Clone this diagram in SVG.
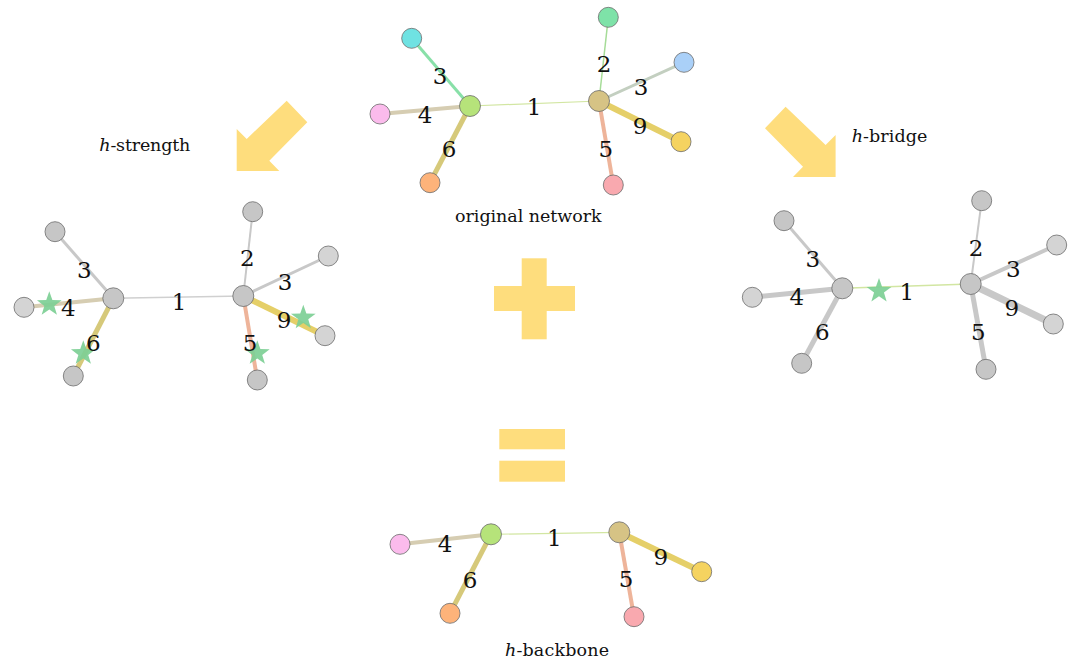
<svg xmlns="http://www.w3.org/2000/svg" xmlns:xlink="http://www.w3.org/1999/xlink" width="1077" height="663" viewBox="0 0 1077 663">
<style>
.n{stroke:#6b6b6b;stroke-width:0.8}
.g{fill:#c6c6c6}
.gl{fill:#d4d4d4}
.e{fill:none;stroke-linecap:butt}
.lbl{font-family:"DejaVu Serif","Liberation Serif",serif;font-size:23px;fill:#111;text-anchor:middle}
.cap{font-family:"DejaVu Serif","Liberation Serif",serif;font-size:17.5px;fill:#111}
.sym{fill:#fedd7d}
.star{fill:#7dcf95;opacity:0.92}
</style>
<defs>
<path id="star" d="M0,-13 L3.06,-4.21 L12.36,-4.02 L4.95,1.61 L7.64,10.52 L0,5.2 L-7.64,10.52 L-4.95,1.61 L-12.36,-4.02 L-3.06,-4.21 Z"/>
</defs>
<rect width="1077" height="663" fill="#ffffff"/>

<g id="symbols">
<polygon class="sym" points="236.7,171 236.7,129 246.7,139 286.7,100.7 307.3,122.3 269.3,160.7 279.3,171"/>
<polygon class="sym" points="835.6,177 835.6,135 825.6,145 785.6,106.7 765,128.3 803,166.7 793,177"/>
<rect class="sym" x="521.7" y="258.3" width="25" height="81"/>
<rect class="sym" x="494" y="286" width="81" height="25"/>
<rect class="sym" x="499.3" y="429" width="65.7" height="20.3"/>
<rect class="sym" x="499.3" y="460.7" width="65.7" height="21"/>
</g>

<g id="connectors">
<line class="e" x1="470" y1="106" x2="411.7" y2="38.3" stroke="#88e0a8" stroke-width="3"/>
<line class="e" x1="470" y1="106" x2="380" y2="114" stroke="#d6cdb2" stroke-width="4"/>
<line class="e" x1="470" y1="106" x2="430" y2="182.7" stroke="#d6c97a" stroke-width="5"/>
<line class="e" x1="470" y1="106" x2="599" y2="101" stroke="#d2e6a2" stroke-width="1.2"/>
<line class="e" x1="599" y1="101" x2="608.3" y2="17.3" stroke="#a6dc98" stroke-width="1.5"/>
<line class="e" x1="599" y1="101" x2="684" y2="62.3" stroke="#c3cfc0" stroke-width="3"/>
<line class="e" x1="599" y1="101" x2="681" y2="141.7" stroke="#e5cf68" stroke-width="6"/>
<line class="e" x1="599" y1="101" x2="613.3" y2="185" stroke="#eeb49a" stroke-width="4"/>
<line class="e" x1="113.3" y1="298.3" x2="55" y2="231.7" stroke="#c8c8c8" stroke-width="3"/>
<line class="e" x1="113.3" y1="298.3" x2="24" y2="307.3" stroke="#d6cdb2" stroke-width="4"/>
<line class="e" x1="113.3" y1="298.3" x2="73.3" y2="376" stroke="#d6c97a" stroke-width="5"/>
<line class="e" x1="113.3" y1="298.3" x2="243.3" y2="296" stroke="#d0d0d0" stroke-width="1.5"/>
<line class="e" x1="243.3" y1="296" x2="252.7" y2="211.7" stroke="#c8c8c8" stroke-width="2"/>
<line class="e" x1="243.3" y1="296" x2="328.3" y2="256" stroke="#c8c8c8" stroke-width="3"/>
<line class="e" x1="243.3" y1="296" x2="325" y2="335.7" stroke="#e5cf68" stroke-width="6"/>
<line class="e" x1="243.3" y1="296" x2="257.3" y2="380" stroke="#eeb49a" stroke-width="4"/>
<line class="e" x1="842.3" y1="288.3" x2="784" y2="220.7" stroke="#c8c8c8" stroke-width="3"/>
<line class="e" x1="842.3" y1="288.3" x2="752.3" y2="297.3" stroke="#c8c8c8" stroke-width="5"/>
<line class="e" x1="842.3" y1="288.3" x2="801.7" y2="363.3" stroke="#c8c8c8" stroke-width="5"/>
<line class="e" x1="842.3" y1="288.3" x2="970.7" y2="284" stroke="#d2e6a2" stroke-width="1.5"/>
<line class="e" x1="970.7" y1="284" x2="981.7" y2="200.7" stroke="#c8c8c8" stroke-width="2"/>
<line class="e" x1="970.7" y1="284" x2="1056.7" y2="245" stroke="#c8c8c8" stroke-width="4"/>
<line class="e" x1="970.7" y1="284" x2="1053.3" y2="324" stroke="#c8c8c8" stroke-width="7"/>
<line class="e" x1="970.7" y1="284" x2="986" y2="369.3" stroke="#c8c8c8" stroke-width="5"/>
<line class="e" x1="491" y1="534.3" x2="400" y2="544.3" stroke="#d6cdb2" stroke-width="4"/>
<line class="e" x1="491" y1="534.3" x2="450" y2="613.3" stroke="#d6c97a" stroke-width="5"/>
<line class="e" x1="491" y1="534.3" x2="619.3" y2="532.3" stroke="#d2e6a2" stroke-width="1.2"/>
<line class="e" x1="619.3" y1="532.3" x2="701.7" y2="571.7" stroke="#e5cf68" stroke-width="6"/>
<line class="e" x1="619.3" y1="532.3" x2="634" y2="616.7" stroke="#eeb49a" stroke-width="4"/>
</g>

<g id="orig-cyan"><circle class="n" cx="411.7" cy="38.3" r="10" fill="#6fe2e2"/></g>
<g id="orig-pink"><circle class="n" cx="380" cy="114" r="10" fill="#fbbbec"/></g>
<g id="orig-orange"><circle class="n" cx="430" cy="182.7" r="10" fill="#fdb37a"/></g>
<g id="orig-lime"><circle class="n" cx="470" cy="106" r="10.5" fill="#b6e37a"/></g>
<g id="orig-tan"><circle class="n" cx="599" cy="101" r="10.5" fill="#d6c385"/></g>
<g id="orig-green"><circle class="n" cx="608.3" cy="17.3" r="10" fill="#7ee2a8"/></g>
<g id="orig-blue"><circle class="n" cx="684" cy="62.3" r="10" fill="#aad0f8"/></g>
<g id="orig-yellow"><circle class="n" cx="681" cy="141.7" r="10" fill="#f5d360"/></g>
<g id="orig-rose"><circle class="n" cx="613.3" cy="185" r="10" fill="#f9a9af"/></g>

<g id="hs-tl"><circle class="n g" cx="55" cy="231.7" r="10"/></g>
<g id="hs-l"><circle class="n gl" cx="24" cy="307.3" r="10"/></g>
<g id="hs-b"><circle class="n g" cx="73.3" cy="376" r="10"/></g>
<g id="hs-lh"><circle class="n g" cx="113.3" cy="298.3" r="10.5"/></g>
<g id="hs-rh"><circle class="n g" cx="243.3" cy="296" r="10.5"/></g>
<g id="hs-t"><circle class="n g" cx="252.7" cy="211.7" r="10"/></g>
<g id="hs-ur"><circle class="n gl" cx="328.3" cy="256" r="10"/></g>
<g id="hs-r"><circle class="n gl" cx="325" cy="335.7" r="10"/></g>
<g id="hs-bt"><circle class="n g" cx="257.3" cy="380" r="10"/></g>

<g id="hb-tl"><circle class="n g" cx="784" cy="220.7" r="10"/></g>
<g id="hb-l"><circle class="n gl" cx="752.3" cy="297.3" r="10"/></g>
<g id="hb-b"><circle class="n g" cx="801.7" cy="363.3" r="10"/></g>
<g id="hb-lh"><circle class="n g" cx="842.3" cy="288.3" r="10.5"/></g>
<g id="hb-rh"><circle class="n g" cx="970.7" cy="284" r="10.5"/></g>
<g id="hb-t"><circle class="n g" cx="981.7" cy="200.7" r="10"/></g>
<g id="hb-ur"><circle class="n gl" cx="1056.7" cy="245" r="10"/></g>
<g id="hb-r"><circle class="n gl" cx="1053.3" cy="324" r="10"/></g>
<g id="hb-bt"><circle class="n g" cx="986" cy="369.3" r="10"/></g>

<g id="bb-pink"><circle class="n" cx="400" cy="544.3" r="10" fill="#fbbbec"/></g>
<g id="bb-orange"><circle class="n" cx="450" cy="613.3" r="10" fill="#fdb37a"/></g>
<g id="bb-lime"><circle class="n" cx="491" cy="534.3" r="10.5" fill="#b6e37a"/></g>
<g id="bb-tan"><circle class="n" cx="619.3" cy="532.3" r="10.5" fill="#d6c385"/></g>
<g id="bb-yellow"><circle class="n" cx="701.7" cy="571.7" r="10" fill="#f5d360"/></g>
<g id="bb-rose"><circle class="n" cx="634" cy="616.7" r="10" fill="#f9a9af"/></g>

<g id="stars">
<use xlink:href="#star" class="star" x="49.3" y="304.3"/>
<use xlink:href="#star" class="star" x="83.3" y="353.3"/>
<use xlink:href="#star" class="star" x="303.3" y="317.7"/>
<use xlink:href="#star" class="star" x="257.3" y="353.3"/>
<use xlink:href="#star" class="star" x="879" y="291"/>
</g>

<g id="labels">
<text class="lbl" x="440" y="84">3</text>
<text class="lbl" x="425" y="123">4</text>
<text class="lbl" x="449" y="157">6</text>
<text class="lbl" x="534" y="115">1</text>
<text class="lbl" x="604" y="72">2</text>
<text class="lbl" x="641" y="95">3</text>
<text class="lbl" x="640" y="134">9</text>
<text class="lbl" x="605.7" y="157">5</text>

<text class="lbl" x="84.3" y="278">3</text>
<text class="lbl" x="68.3" y="316">4</text>
<text class="lbl" x="93.3" y="351">6</text>
<text class="lbl" x="179" y="310">1</text>
<text class="lbl" x="247.3" y="266">2</text>
<text class="lbl" x="285" y="290">3</text>
<text class="lbl" x="284" y="328">9</text>
<text class="lbl" x="250" y="351">5</text>

<text class="lbl" x="812.7" y="267.3">3</text>
<text class="lbl" x="796.7" y="305.3">4</text>
<text class="lbl" x="822.3" y="340.3">6</text>
<text class="lbl" x="906.7" y="299.7">1</text>
<text class="lbl" x="976" y="255.7">2</text>
<text class="lbl" x="1013.3" y="277.3">3</text>
<text class="lbl" x="1011.7" y="316.3">9</text>
<text class="lbl" x="978.3" y="339.7">5</text>

<text class="lbl" x="445" y="552.3">4</text>
<text class="lbl" x="470" y="588">6</text>
<text class="lbl" x="554.3" y="546.3">1</text>
<text class="lbl" x="660.7" y="564.7">9</text>
<text class="lbl" x="626" y="587">5</text>
</g>

<g id="captions">
<text class="cap" x="99.3" y="151" textLength="91"><tspan font-style="italic">h</tspan>-strength</text>
<text class="cap" x="851.7" y="141.7" textLength="75.6"><tspan font-style="italic">h</tspan>-bridge</text>
<text class="cap" x="455" y="222" textLength="146.7">original network</text>
<text class="cap" x="505" y="656" textLength="104"><tspan font-style="italic">h</tspan>-backbone</text>
</g>
</svg>
